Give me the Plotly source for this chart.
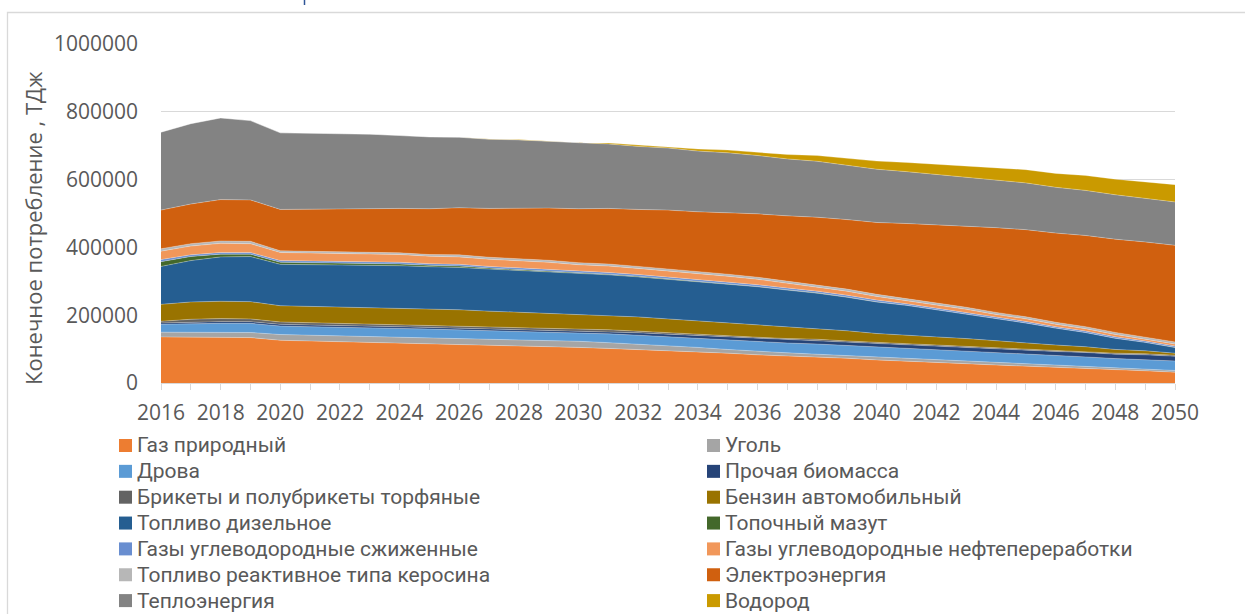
import plotly.graph_objects as go

# ---- data (TJ), 2016-2050 ----
years = list(range(2016, 2051))

gas_natural = [136, 136, 135, 134, 126, 124, 122, 120, 117, 115, 113, 111, 109, 107, 105, 102, 99, 95,
               92, 88, 83, 80, 77, 73, 68, 65, 61, 57, 53, 50, 46, 43, 39, 36, 32]
coal = [14, 14, 14, 15, 17, 17, 18, 18, 18, 18, 18, 18, 18, 18, 18, 17, 16, 14,
        13, 11, 10, 9, 8, 8, 7, 7, 7, 7, 7, 6, 6, 6, 5, 5, 5]
firewood = [23, 25, 27, 27, 25, 25, 25, 26, 26, 26, 26, 25, 25, 25, 25, 26, 26, 27,
            27, 28, 29, 29, 30, 30, 31, 31, 30, 30, 29, 29, 29, 28, 28, 28, 28]
other_biomass = [4, 5, 5, 5, 5, 5, 5, 5, 5, 5, 5, 6, 6, 6, 6, 7, 7, 8,
                 8, 9, 9, 9, 10, 10, 10, 10, 11, 11, 11, 12, 12, 13, 13, 14, 14]
peat_briquettes = [5, 8, 9, 8, 7, 7, 6, 6, 6, 6, 6, 5, 5, 5, 5, 5, 5, 4,
                   4, 4, 4, 4, 4, 3, 3, 3, 3, 3, 3, 3, 3, 3, 3, 3, 3]
gasoline = [50, 51, 51, 51, 48, 48, 48, 49, 49, 48, 48, 47, 46, 45, 44, 43, 42, 41,
            39, 38, 36, 34, 32, 30, 27, 26, 24, 23, 21, 19, 16, 14, 11, 9, 6]
diesel = [112, 122, 131, 133, 122, 123, 124, 125, 125, 125, 125, 124, 123, 122, 120, 119, 118, 117,
          116, 115, 113, 109, 104, 99, 93, 87, 80, 73, 66, 58, 50, 42, 33, 25, 17]
fuel_oil = [14, 12, 8, 7, 6, 6, 5, 5, 5, 4, 4, 3, 3, 3, 2, 2, 2, 2,
            1, 1, 1, 1, 1, 1, 0.5, 0.5, 0.4, 0.4, 0.3, 0.3, 0.2, 0.2, 0.2, 0.1, 0.1]
lpg = [6, 5, 5, 5, 5, 5, 5, 5, 5, 5, 5, 5, 5, 5, 5, 5, 5, 5,
       5, 5, 5, 5, 5, 5, 5, 4, 4, 4, 4, 4, 4, 4, 4, 4, 4]
refinery_gas = [25, 26, 27, 26, 24, 24, 24, 23, 23, 22, 22, 21, 21, 20, 19, 19, 18, 18,
                17, 16, 16, 14, 13, 12, 11, 10, 10, 9, 8, 8, 7, 7, 7, 6, 6]
jet_fuel = [7, 7, 7, 7, 5, 5, 5, 5, 5, 5, 6, 6, 6, 6, 6, 6, 6, 6,
            6, 6, 6, 6, 6, 6, 6, 6, 6, 6, 6, 6, 6, 6, 6, 6, 6]
electricity = [114, 117, 122, 122, 122, 124, 126, 128, 131, 135, 139, 144, 149, 154, 159, 164, 168, 173,
               177, 182, 187, 193, 199, 205, 212, 221, 230, 240, 250, 257, 263, 269, 275, 280, 285]
heat = [230, 237, 241, 234, 226, 224, 222, 219, 215, 212, 208, 204, 201, 197, 193, 190, 186, 183,
        179, 176, 172, 168, 165, 161, 157, 153, 149, 145, 141, 138, 135, 133, 131, 129, 128]
hydrogen = [0, 0, 0, 0, 0, 0, 0, 0, 0, 0, 0, 0.5, 1, 1.5, 2, 3, 4, 5,
            6, 8, 10, 13, 17, 20, 24, 27, 30, 33, 36, 39, 41, 44, 46, 49, 51]

names = ["Газ природный", "Уголь", "Дрова", "Прочая биомасса",
         "Брикеты и полубрикеты торфяные", "Бензин автомобильный",
         "Топливо дизельное", "Топочный мазут", "Газы углеводородные сжиженные",
         "Газы углеводородные нефтепереработки", "Топливо реактивное типа керосина",
         "Электроэнергия", "Теплоэнергия", "Водород"]
values = [gas_natural, coal, firewood, other_biomass, peat_briquettes, gasoline, diesel,
          fuel_oil, lpg, refinery_gas, jet_fuel, electricity, heat, hydrogen]
colors = ["#ED7D31", "#A5A5A5", "#5B9BD5", "#264478", "#636363", "#997300", "#255E91",
          "#43682B", "#698ED0", "#F1975A", "#B7B7B7", "#D0600F", "#838383", "#CA9A00"]

# ---- figure geometry (px) ----
W, H = 1245, 614
L, R, T, B = 161, 1175, 44, 383


def xp(x):
    return (x - L) / (R - L)


def yp(y):
    return (B - y) / (B - T)


TEXT = "#595959"
GRID = "#D9D9D9"
FONT = "Open Sans"
LEGEND_FONT = "Roboto"

fig = go.Figure()
for name, vals, color in zip(names, values, colors):
    fig.add_trace(go.Scatter(
        x=years, y=[v * 1000 for v in vals], name=name,
        stackgroup="total", mode="lines",
        line=dict(width=0.6, color="rgba(255,255,255,0.45)"),
        fillcolor=color, showlegend=False,
        hovertemplate="%{x}: %{y:d} ТДж<extra>" + name + "</extra>",
    ))

shapes = [
    # chart frame
    dict(type="rect", xref="paper", yref="paper",
         x0=xp(7.5), x1=xp(1270), y0=yp(640), y1=yp(12.5),
         line=dict(color=GRID, width=1.3), fillcolor="rgba(0,0,0,0)", layer="below"),
    dict(type="line", xref="paper", yref="paper",
         x0=xp(304.5), x1=xp(304.5), y0=yp(-2), y1=yp(5),
         line=dict(color="#2F5597", width=1.5)),
]
annotations = [
    dict(text="Конечное потребление , ТДж", xref="paper", yref="paper",
         x=xp(33), y=yp(228), xanchor="center", yanchor="middle",
         textangle=-90, showarrow=False,
         font=dict(family=FONT, size=22, color=TEXT)),
]

# legend: two columns, items placed row by row
col_x = [119, 707]
row_y0, row_dy = 445.5, 25.85
for i, (name, color) in enumerate(zip(names, colors)):
    col, row = i % 2, i // 2
    cx, cy = col_x[col], row_y0 + row * row_dy
    shapes.append(dict(type="rect", xref="paper", yref="paper",
                       x0=xp(cx), x1=xp(cx + 13), y0=yp(cy + 6.5), y1=yp(cy - 6.5),
                       line=dict(width=0), fillcolor=color))
    annotations.append(dict(text=name, xref="paper", yref="paper",
                            x=xp(cx + 16), y=yp(cy), xanchor="left", yanchor="middle",
                            showarrow=False,
                            font=dict(family=LEGEND_FONT, size=21, color=TEXT)))

fig.update_layout(
    width=W, height=H,
    margin=dict(l=L, r=W - R, t=T, b=H - B, pad=0),
    plot_bgcolor="white", paper_bgcolor="white",
    font=dict(family=FONT, size=21, color=TEXT),
    showlegend=False,
    shapes=shapes, annotations=annotations,
    xaxis=dict(range=[2016, 2050], tickmode="linear", tick0=2016, dtick=2,
               ticks="outside", ticklen=6, tickcolor=GRID, tickwidth=1,
               showline=True, linecolor=GRID, linewidth=1, showgrid=False, zeroline=False,
               minor=dict(dtick=1, tick0=2016, ticks="outside", ticklen=6,
                          tickcolor=GRID, tickwidth=1, showgrid=False),
               tickfont=dict(family=FONT, size=21, color=TEXT), ticklabelstandoff=5),
    yaxis=dict(range=[0, 1000000], tickmode="array",
               tickvals=[0, 200000, 400000, 600000, 800000, 1000000],
               tickformat="d", showgrid=True, gridcolor=GRID, gridwidth=1,
               zeroline=False, showline=False, ticks="",
               tickfont=dict(family=FONT, size=21, color=TEXT), ticklabelstandoff=22),
)

fig.write_html("out.html")
